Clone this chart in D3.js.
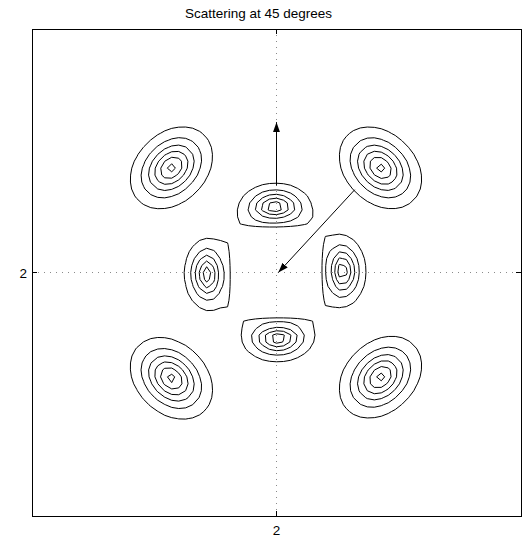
<!DOCTYPE html>
<html>
<head>
<style>
  body { margin: 0; background: #fff; font-family: "Liberation Sans", Arial, sans-serif; }
  .contour { fill: none; stroke: #000; stroke-width: 1px; stroke-linejoin: round; }
  .grid { stroke: #8a8a8a; stroke-width: 1px; stroke-dasharray: 1,5; }
  .frame { fill: none; stroke: #000; stroke-width: 1px; }
  .tick { stroke: #000; stroke-width: 1px; }
  .arrow { stroke: #000; stroke-width: 1px; }
  text { font-size: 13.5px; fill: #000; }
</style>
</head>
<body>
<div id="chart"></div>
<script src="https://cdn.jsdelivr.net/npm/d3@7"></script>
<script>
var titleText = "Scattering at 45 degrees";
var xTicks = [2];
var yTicks = [2];
var levels = [1, 2, 3, 4, 5, 6];
var centre = [2, 2];

// outer (diagonal) peaks
var outerX = [1.14, 2.85, 1.14, 2.85];
var outerY = [2.86, 2.86, 1.13, 1.14];
var outerHeight = [6.5, 6.5, 6.5, 6.5];
var outerAlong = [0.25, 0.25, 0.25, 0.25];       // spread across the radius
var outerRadial = [0.186, 0.186, 0.186, 0.186];  // spread along the radius

// inner (axis) peaks, cut flat on the side facing the centre
var innerX = [1.988, 2.012, 1.44, 2.536];
var innerY = [2.538, 1.462, 1.984, 2.012];
var innerHeight = [6.05, 6.05, 6.05, 6.05];
var innerShelf = [1.1, 1.1, 1.1, 1.1];           // low shoulder along the cut
var innerCut = [0.374, 0.357, 0.364, 0.356];
var innerAlong = [0.197, 0.197, 0.197, 0.197];
var innerOut = [0.13, 0.13, 0.13, 0.13];
var innerIn = [0.09, 0.09, 0.09, 0.09];

// arrows, head at the "to" end
var arrowFrom = [[2.0, 2.715], [2.64, 2.68]];
var arrowTo = [[2.0, 3.235], [2.015, 2.0]];

var W = 527, H = 554;
var margin = {top: 29, right: 6, bottom: 38, left: 32};
var width = W - margin.left - margin.right,
    height = H - margin.top - margin.bottom;

var svg = d3.select("#chart").append("svg")
    .attr("width", W)
    .attr("height", H);

var g = svg.append("g")
    .attr("transform", "translate(" + margin.left + "," + margin.top + ")");

var x = d3.scaleLinear().domain([0, 4]).range([0, width]);
var y = d3.scaleLinear().domain([0, 4]).range([height, 0]);

function field(px, py) {
    var v = 0, i;
    for (i = 0; i < outerX.length; i++) {
        var a = Math.atan2(outerY[i] - centre[1], outerX[i] - centre[0]);
        var dx = px - outerX[i], dy = py - outerY[i];
        var r = dx * Math.cos(a) + dy * Math.sin(a);
        var t = -dx * Math.sin(a) + dy * Math.cos(a);
        var q = Math.sqrt(Math.pow(r / outerRadial[i], 2) + Math.pow(t / outerAlong[i], 2));
        v += outerHeight[i] * Math.exp(-Math.pow(q, 1.5));
    }
    for (i = 0; i < innerX.length; i++) {
        var b = Math.atan2(innerY[i] - centre[1], innerX[i] - centre[0]);
        var ex = px - innerX[i], ey = py - innerY[i];
        var dv = ex * Math.cos(b) + ey * Math.sin(b);
        var tt = -ex * Math.sin(b) + ey * Math.cos(b);
        var dist = Math.hypot(innerX[i] - centre[0], innerY[i] - centre[1]);
        var u = dv + dist - innerCut[i];
        if (u <= 0) continue;
        var sv = dv > 0 ? innerOut[i] : innerIn[i];
        var qq = Math.sqrt(Math.pow(dv / sv, 2) + Math.pow(tt / innerAlong[i], 2));
        var su = u < 0.02 ? 0 : (u - 0.02) / 0.1;
        var shelf = innerShelf[i] * Math.exp(-Math.pow(tt / 0.365, 4) - su * su);
        var ramp = 1 - Math.exp(-u / 0.01);
        v += (innerHeight[i] * Math.exp(-Math.pow(qq, 1.5)) + shelf) * ramp;
    }
    return v;
}

var n = 71, step = 4 / (n - 1);
var values = new Array(n * n);
for (var j = 0; j < n; j++) {
    for (var k = 0; k < n; k++) {
        values[j * n + k] = field(k * step, 4 - j * step);
    }
}

var contours = d3.contours().size([n, n]).thresholds(levels)(values);

var toPixels = d3.geoTransform({
    point: function(cx, cy) {
        this.stream.point(x((cx - 0.5) * step), y(4 - (cy - 0.5) * step));
    }
});
var path = d3.geoPath(toPixels);

// dotted grid at the ticks
g.selectAll("line.gx").data(xTicks).enter().append("line")
    .attr("class", "grid")
    .attr("x1", function(d) { return x(d); }).attr("x2", function(d) { return x(d); })
    .attr("y1", 0).attr("y2", height);
g.selectAll("line.gy").data(yTicks).enter().append("line")
    .attr("class", "grid")
    .attr("y1", function(d) { return y(d); }).attr("y2", function(d) { return y(d); })
    .attr("x1", 0).attr("x2", width);

g.selectAll("path.contour").data(contours).enter().append("path")
    .attr("class", "contour")
    .attr("d", path);

// arrows
svg.append("defs").append("marker")
    .attr("id", "head")
    .attr("markerUnits", "userSpaceOnUse")
    .attr("viewBox", "0 -4 10 8")
    .attr("refX", 10).attr("refY", 0)
    .attr("markerWidth", 10).attr("markerHeight", 8)
    .attr("orient", "auto")
  .append("path")
    .attr("d", "M0,-3.5L10,0L0,3.5Z")
    .attr("fill", "#000");

g.selectAll("line.arrow").data(arrowFrom).enter().append("line")
    .attr("class", "arrow")
    .attr("x1", function(d) { return x(d[0]); })
    .attr("y1", function(d) { return y(d[1]); })
    .attr("x2", function(d, i) { return x(arrowTo[i][0]); })
    .attr("y2", function(d, i) { return y(arrowTo[i][1]); })
    .attr("marker-end", "url(#head)");

// box and ticks
g.append("rect").attr("class", "frame")
    .attr("x", 0.5).attr("y", 0.5)
    .attr("width", width).attr("height", height);

var tl = 5;
xTicks.forEach(function(d) {
    g.append("line").attr("class", "tick")
        .attr("x1", x(d)).attr("x2", x(d)).attr("y1", height).attr("y2", height - tl);
    g.append("line").attr("class", "tick")
        .attr("x1", x(d)).attr("x2", x(d)).attr("y1", 0).attr("y2", tl);
    g.append("text").attr("x", x(d)).attr("y", height + 19)
        .attr("text-anchor", "middle").text(d);
});
yTicks.forEach(function(d) {
    g.append("line").attr("class", "tick")
        .attr("y1", y(d)).attr("y2", y(d)).attr("x1", 0).attr("x2", tl);
    g.append("line").attr("class", "tick")
        .attr("y1", y(d)).attr("y2", y(d)).attr("x1", width).attr("x2", width - tl);
    g.append("text").attr("x", -5).attr("y", y(d) + 5)
        .attr("text-anchor", "end").text(d);
});

svg.append("text")
    .attr("x", 258.5).attr("y", 18)
    .attr("text-anchor", "middle")
    .text(titleText);
</script>
</body>
</html>
